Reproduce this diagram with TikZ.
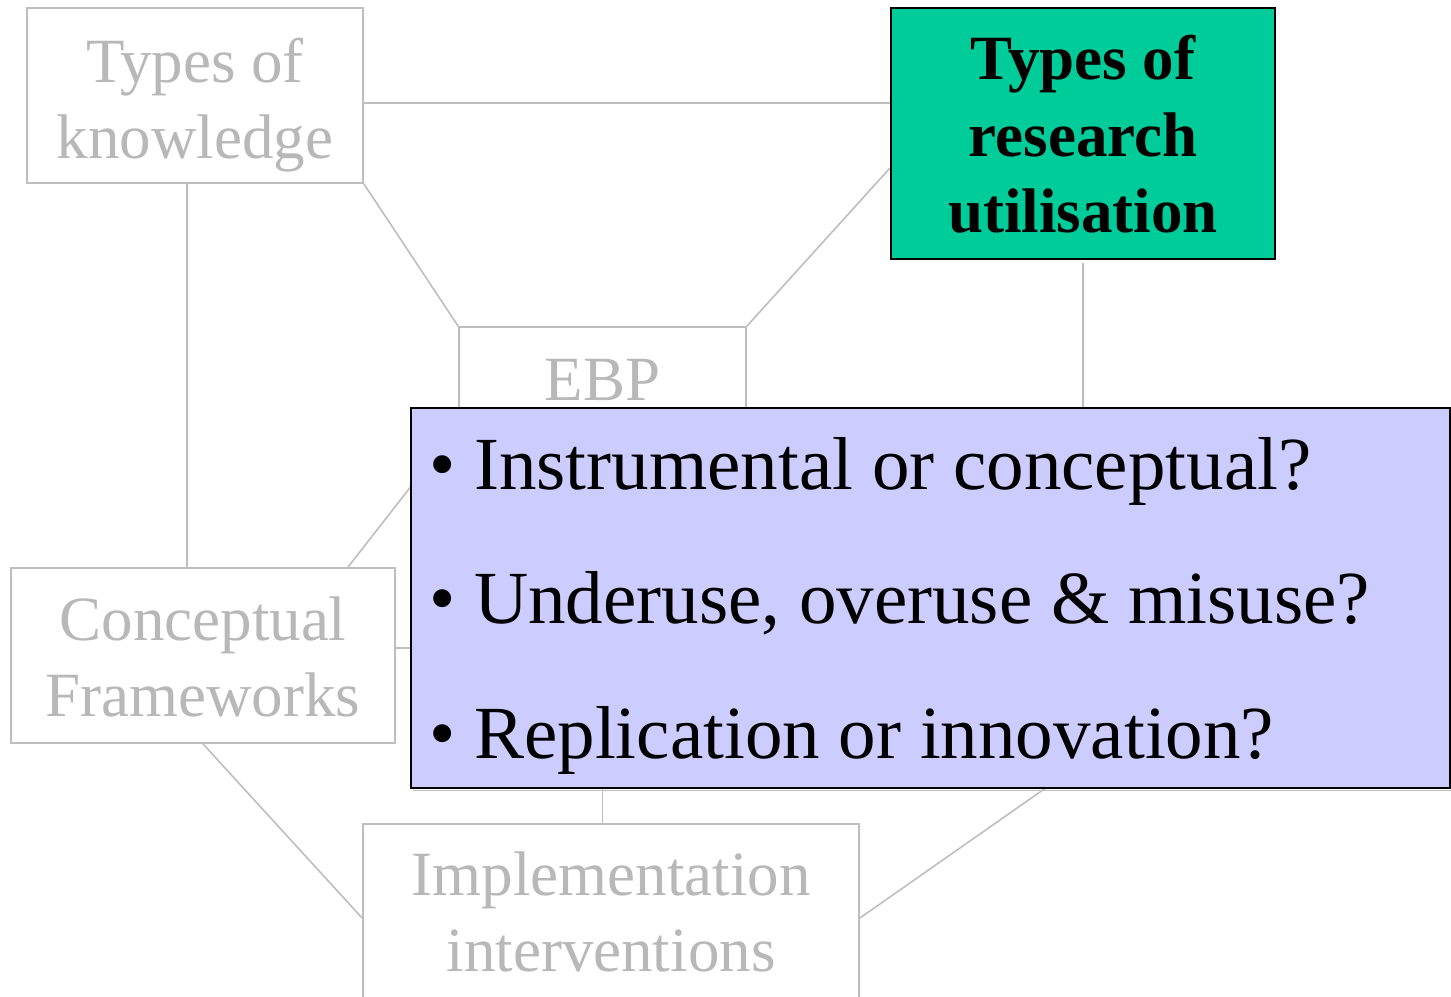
\documentclass[tikz,border=0pt]{standalone}
\usepackage{fontspec}
\setmainfont{Liberation Serif}
\definecolor{lgray}{RGB}{190,190,190}
\definecolor{tgray}{RGB}{184,184,184}
\definecolor{rugreen}{RGB}{0,204,153}
\definecolor{qblue}{RGB}{204,204,255}
\tikzset{
  graybox/.style={draw=lgray, line width=1.8pt, fill=white, inner sep=0pt},
  graytext/.style={text=tgray, font=\fontsize{63}{76}\selectfont, align=center, inner sep=0pt, anchor=base},
  conn/.style={draw=lgray, line width=1.6pt},
  greenbox/.style={draw=black, line width=2pt, fill=rugreen, inner sep=0pt},
  greentext/.style={text=black, font=\fontsize{63}{76.5}\selectfont\bfseries, align=center, inner sep=0pt, anchor=base},
  bluebox/.style={draw=black, line width=2pt, fill=qblue, inner sep=0pt},
  bullettext/.style={text=black, font=\fontsize{75}{90}\selectfont, inner sep=0pt, anchor=base west}
}
\begin{document}
\begin{tikzpicture}[x=1pt,y=-1pt]
\useasboundingbox (0,0) rectangle (1451,996);
\clip (0,0) rectangle (1451,996);
% boxes
\node[graybox, minimum width=336pt, minimum height=175pt] (tk) at (195,95.5) {};
\node[greenbox, minimum width=384pt, minimum height=251pt] (ru) at (1083,133.5) {};
\node[graybox, minimum width=287pt, minimum height=98pt] (ebp) at (602.5,376) {};
\node[graybox, minimum width=384pt, minimum height=175pt] (cf) at (203,655.5) {};
\node[graybox, minimum width=496pt, minimum height=175pt] (im) at (611,911.5) {};
% hidden ends
\coordinate (hc) at (560,648);
\coordinate (hr) at (1200,680);
\coordinate (hg) at (1083,500);
% connectors
\draw[conn] (tk.east |- 0,103) -- (ru.west |- 0,103);
\draw[conn] (tk.south east) -- (ebp.north west);
\draw[conn] (ru.west |- 0,168) -- (ebp.north east);
\draw[conn] (tk.south -| 187,0) -- (cf.north -| 187,0);
\draw[conn] (cf.north -| 348,0) -- (ebp.south west);
\draw[conn] (cf.east |- hc) -- (hc);
\draw[conn] (ebp.south) -- (ebp.south |- im.north);
\draw[conn] (cf.south) -- (im.west |- 0,918);
\draw[conn] (im.east |- 0,918) -- (hr);
\draw[conn] ([yshift=-3pt]ru.south) -- (hg);
% redraw boxes on top of connectors
\node[graybox, minimum width=336pt, minimum height=175pt] at (tk) {};
\node[graybox, minimum width=287pt, minimum height=98pt] at (ebp) {};
\node[graybox, minimum width=384pt, minimum height=175pt] at (cf) {};
\node[graybox, minimum width=496pt, minimum height=175pt] at (im) {};
\node[greenbox, minimum width=384pt, minimum height=251pt] at (ru) {};
% texts (base anchor = baseline of the last line)
\node[graytext] (tkt) at (195,158) {Types of\\knowledge};
\node[graytext] (ebpt) at (602.5,400) {EBP};
\node[graytext] (cft) at (203,716.5) {Conceptual\\Frameworks};
\node[graytext] (imt) at (611,971.5) {Implementation\\interventions};
\node[greentext] (rut) at (1083,232.5) {Types of\\research\\utilisation};
% blue box
\fill[black!25] (413,790) rectangle (1451,791);
\node[bluebox, minimum width=1039pt, minimum height=380pt] (qb) at (930.5,598) {};
\node[bullettext] (q1) at (429,489) {• Instrumental or conceptual?};
\node[bullettext] (q2) at (429,623.5) {• Underuse, overuse \& misuse?};
\node[bullettext] (q3) at (429,758) {• Replication or innovation?};
\end{tikzpicture}
\end{document}
